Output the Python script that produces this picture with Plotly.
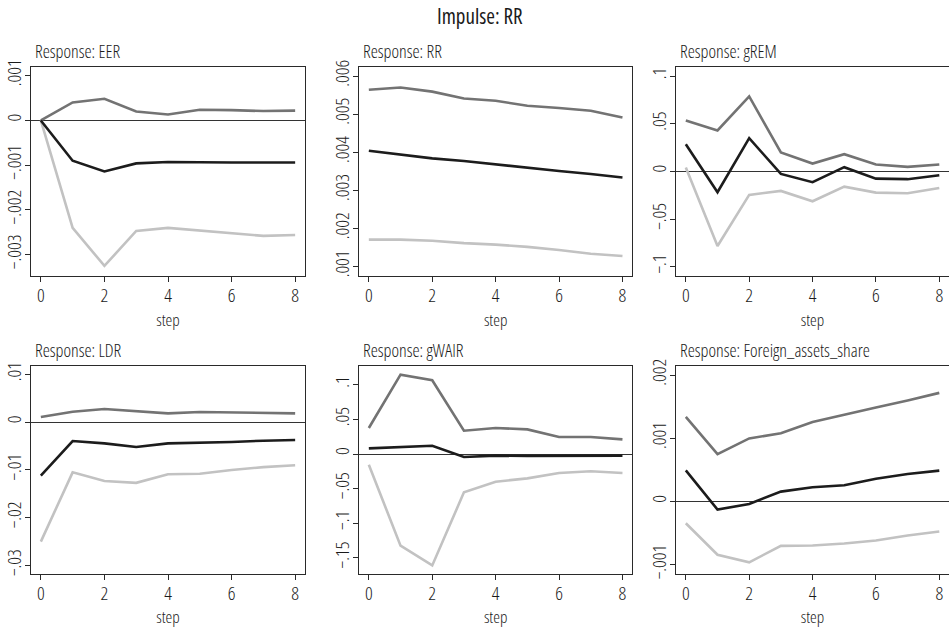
import plotly.graph_objects as go

steps = [0, 1, 2, 3, 4, 5, 6, 7, 8]

titles = ["Response: EER", "Response: RR", "Response: gREM",
          "Response: LDR", "Response: gWAIR", "Response: Foreign_assets_share"]

# upper band, IRF, lower band for each response
eer_hi = [0, 0.000402, 0.000485, 0.00020, 0.000134, 0.00024, 0.00023, 0.00021, 0.00022]
eer_mid = [0, -0.00090, -0.00114, -0.00096, -0.00093, -0.00094, -0.00094, -0.00094, -0.00094]
eer_lo = [0, -0.00240, -0.00325, -0.00247, -0.00240, -0.00246, -0.00251, -0.00258, -0.00256]

rr_hi = [0.00564, 0.00570, 0.00559, 0.00541, 0.00535, 0.00522, 0.00516, 0.00509, 0.00491]
rr_mid = [0.00404, 0.00394, 0.00384, 0.00377, 0.00368, 0.00358, 0.00351, 0.00343, 0.00334]
rr_lo = [0.00171, 0.00171, 0.00168, 0.00162, 0.00158, 0.00152, 0.00144, 0.00134, 0.00128]

grem_hi = [0.0536, 0.0431, 0.0788, 0.0200, 0.0084, 0.0182, 0.0074, 0.0049, 0.0074]
grem_mid = [0.0287, -0.0217, 0.0350, -0.0025, -0.0112, 0.0046, -0.0074, -0.0080, -0.0039]
grem_lo = [0.0042, -0.0781, -0.0245, -0.0203, -0.0312, -0.0158, -0.0221, -0.0228, -0.0172]

ldr_hi = [0.00108, 0.0022, 0.00276, 0.00227, 0.00185, 0.00213, 0.00206, 0.00185, 0.00185]
ldr_mid = [-0.0112, -0.00394, -0.00443, -0.0052, -0.00443, -0.00436, -0.00415, -0.00387, -0.00373]
ldr_lo = [-0.0250, -0.0105, -0.0123, -0.0127, -0.0109, -0.0108, -0.0100, -0.0094, -0.0090]

gwair_hi = [0.0376, 0.1146, 0.1065, 0.0337, 0.0376, 0.0356, 0.0246, 0.0246, 0.0212]
gwair_mid = [0.0082, 0.0106, 0.0120, -0.0043, -0.0024, -0.0029, -0.0029, -0.0024, -0.0024]
gwair_lo = [-0.0154, -0.1325, -0.1610, -0.0554, -0.0400, -0.0352, -0.0275, -0.0250, -0.0275]

fas_hi = [0.00134, 0.00075, 0.00100, 0.00108, 0.00126, 0.00138, 0.00149, 0.00160, 0.00172]
fas_mid = [0.000495, -0.000126, -0.000037, 0.000158, 0.000226, 0.000258, 0.000363, 0.000437, 0.00049]
fas_lo = [-0.000342, -0.00084, -0.00096, -0.00070, -0.000695, -0.000663, -0.000616, -0.000537, -0.000474]

# y tick values / labels per panel
yt_vals = [
    [0.001, 0, -0.001, -0.002, -0.003],
    [0.006, 0.005, 0.004, 0.003, 0.002, 0.001],
    [0.1, 0.05, 0, -0.05, -0.1],
    [0.01, 0, -0.01, -0.02, -0.03],
    [0.1, 0.05, 0, -0.05, -0.1, -0.15],
    [0.002, 0.001, 0, -0.001],
]
yt_text = [
    [".001", "0", "\u2212.001", "\u2212.002", "\u2212.003"],
    [".006", ".005", ".004", ".003", ".002", ".001"],
    [".1", ".05", "0", "\u2212.05", "\u2212.1"],
    [".01", "0", "\u2212.01", "\u2212.02", "\u2212.03"],
    [".1", ".05", "0", "\u2212.05", "\u2212.1", "\u2212.15"],
    [".002", ".001", "0", "\u2212.001"],
]
y_ranges = [
    [-0.003476, 0.001194],
    [0.000757, 0.006236],
    [-0.1096, 0.1097],
    [-0.03185, 0.01183],
    [-0.1738, 0.1276],
    [-0.00115, 0.00215],
]
x_ticks = [0, 2, 4, 6, 8]

panels = [
    (eer_hi, eer_mid, eer_lo),
    (rr_hi, rr_mid, rr_lo),
    (grem_hi, grem_mid, grem_lo),
    (ldr_hi, ldr_mid, ldr_lo),
    (gwair_hi, gwair_mid, gwair_lo),
    (fas_hi, fas_mid, fas_lo),
]

W, H = 949, 628
FONT = "Open Sans, Roboto, DejaVu Sans, sans-serif"
TXT = "#1a1a1a"
col_px = [(31, 305), (359, 632.3), (676, 949)]
row_px = [(67, 276), (365.7, 574.3)]

C_HI = "#737373"
C_MID = "#1c1c1c"
C_LO = "#c2c2c2"
AX = "#2a2a2a"

fig = go.Figure()
layout = dict(
    template="none",
    width=W, height=H,
    margin=dict(l=0, r=0, t=0, b=0, autoexpand=False),
    paper_bgcolor="white", plot_bgcolor="white",
    showlegend=False,
    font=dict(family=FONT, size=17, color=TXT),
)
annotations = [dict(text="Impulse: RR", x=480 / W, y=1 - 16 / H, xref="paper", yref="paper",
                    xanchor="center", yanchor="middle", showarrow=False,
                    font=dict(family=FONT, size=21, color=TXT))]

for i, (hi, mid, lo) in enumerate(panels):
    r, c = divmod(i, 3)
    n = "" if i == 0 else str(i + 1)
    xa, ya = "x" + n, "y" + n
    for ys, col in ((lo, C_LO), (hi, C_HI), (mid, C_MID)):
        fig.add_trace(go.Scatter(x=steps, y=ys, mode="lines", xaxis=xa, yaxis=ya,
                                 line=dict(color=col, width=2.6), hoverinfo="skip"))
    x0, x1 = col_px[c]
    y0, y1 = row_px[r]
    right_clip = (c == 2)
    xr_hi = 8.31 if not right_clip else 8.0 + (949 - 939.3) / 31.7
    layout["xaxis" + n] = dict(
        domain=[x0 / W, x1 / W], anchor=ya, range=[-0.31, xr_hi], automargin=False,
        tickvals=x_ticks, ticktext=[str(t) for t in x_ticks],
        ticks="outside", ticklen=5, tickwidth=1, tickcolor=AX, ticklabelstandoff=-3,
        showline=True, linecolor=AX, linewidth=1, mirror=True,
        showgrid=False, zeroline=False,
        tickfont=dict(family=FONT, size=19, color=TXT, weight=300),
        title=dict(text="step", font=dict(family=FONT, size=17, color=TXT, weight=300), standoff=3),
    )
    layout["yaxis" + n] = dict(
        domain=[1 - y1 / H, 1 - y0 / H], anchor=xa, range=y_ranges[i], automargin=False,
        tickvals=yt_vals[i], ticktext=yt_text[i], tickangle=-90,
        ticks="outside", ticklen=5, tickwidth=1, tickcolor=AX, ticklabelstandoff=-4,
        showline=True, linecolor=AX, linewidth=1, mirror=(not right_clip),
        showgrid=False, zeroline=True, zerolinecolor="#333", zerolinewidth=1,
        tickfont=dict(family=FONT, size=19, color=TXT, weight=300),
    )
    annotations.append(dict(text=titles[i], x=(x0 + 2) / W, y=1 - (y0 - 16) / H,
                            xref="paper", yref="paper", xanchor="left", yanchor="middle",
                            showarrow=False, font=dict(family=FONT, size=18, color=TXT, weight=300)))

layout["annotations"] = annotations
fig.update_layout(**layout)

# no page margin; condensed face of the (variable) font, then re-measure annotation boxes
post_js = """
document.body.style.margin = '0';
document.body.style.padding = '0';
var s = document.createElement('style');
s.textContent = 'svg text { font-stretch: 75% !important; }';
document.head.appendChild(s);
var gd = document.getElementById('{plot_id}');
var upd = {};
gd.layout.annotations.forEach(function(a, i) {
  upd['annotations[' + i + '].font.size'] = a.font.size + 0.001;
});
Plotly.relayout(gd, upd);
"""
fig.write_html("out.html", post_script=post_js, config={"displayModeBar": False})
